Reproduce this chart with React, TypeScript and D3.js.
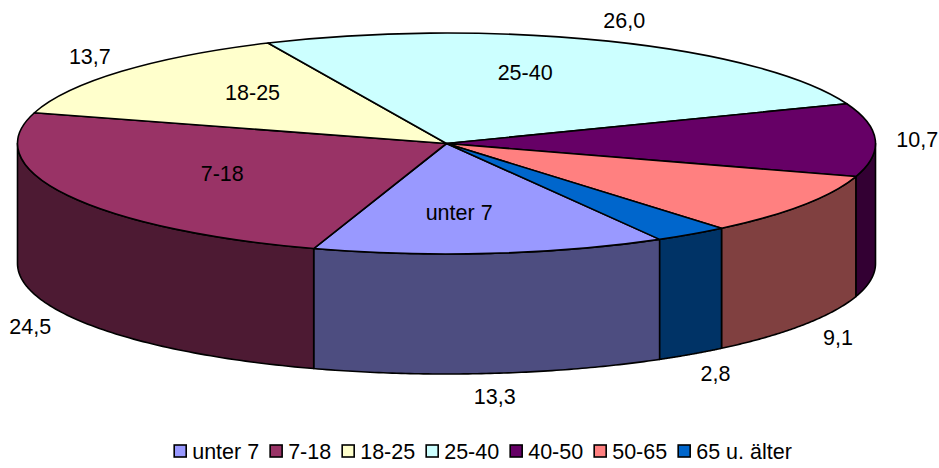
import React, { useEffect, useRef } from "react";
import * as d3 from "d3";

const categories = ["unter 7", "7-18", "18-25", "25-40", "40-50", "50-65", "65 u. älter"];
const values = [13.3, 24.5, 13.7, 26.0, 10.7, 9.1, 2.8];
const topColors = ["#9999FF", "#993366", "#FFFFCC", "#CCFFFF", "#660066", "#FF8080", "#0066CC"];

const W = 939;
const H = 468;
const FONT = "'Liberation Sans', Arial, sans-serif";
const FS = 21.5;

function halfColor(c: string) {
  const r = d3.rgb(c);
  return d3.rgb(r.r * 0.5, r.g * 0.5, r.b * 0.5).formatHex();
}

export default function App() {
  const ref = useRef<SVGSVGElement | null>(null);

  useEffect(() => {
    document.body.style.margin = "0";
    const svg = d3.select(ref.current);
    svg.selectAll("*").remove();

    const cx = 446.5, cy = 143.5, rx = 429, ry = 110.5, depth = 120;
    const start = (150.2 * Math.PI) / 180;
    const pie = d3
      .pie<number>()
      .sort(null)
      .value((d) => d)
      .startAngle(start)
      .endAngle(start + 2 * Math.PI);
    const arcs = pie(values);
    const px = (a: number) => cx + rx * Math.sin(a);
    const py = (a: number) => cy - ry * Math.cos(a);

    const g = svg.append("g");

    // side walls
    arcs.forEach((d, i) => {
      for (let k = -1; k <= 2; k++) {
        const lo = Math.PI / 2 + 2 * Math.PI * k;
        const hi = (3 * Math.PI) / 2 + 2 * Math.PI * k;
        const a = Math.max(d.startAngle, lo);
        const b = Math.min(d.endAngle, hi);
        if (b > a) {
          const n = 80;
          const pts: [number, number][] = [];
          for (let j = 0; j <= n; j++) {
            const t = a + ((b - a) * j) / n;
            pts.push([px(t), py(t)]);
          }
          for (let j = n; j >= 0; j--) {
            const t = a + ((b - a) * j) / n;
            pts.push([px(t), py(t) + depth]);
          }
          g.append("path")
            .attr("d", "M" + pts.map((p) => p.join(",")).join("L") + "Z")
            .attr("fill", halfColor(topColors[i]))
            .attr("stroke", "#000")
            .attr("stroke-width", 1.6)
            .attr("stroke-linejoin", "round");
        }
      }
    });

    // top face
    arcs.forEach((d, i) => {
      const a = d.startAngle, b = d.endAngle;
      const large = b - a > Math.PI ? 1 : 0;
      g.append("path")
        .attr(
          "d",
          `M${cx},${cy}L${px(a)},${py(a)}A${rx},${ry} 0 ${large} 1 ${px(b)},${py(b)}Z`
        )
        .attr("fill", topColors[i])
        .attr("stroke", "#000")
        .attr("stroke-width", 1.6)
        .attr("stroke-linejoin", "round");
    });

    const fmt = (v: number) => d3.format(".1f")(v).replace(".", ",");

    // value labels (outside)
    arcs.forEach((d) => {
      const m = (d.startAngle + d.endAngle) / 2;
      const front = -Math.cos(m) > 0;
      const x = cx + (rx + 42) * Math.sin(m);
      const y = cy - (ry + 23) * Math.cos(m) + (front ? depth : 0);
      g.append("text")
        .attr("x", x)
        .attr("y", y + FS * 0.36)
        .attr("text-anchor", "middle")
        .attr("font-family", FONT)
        .attr("font-size", FS)
        .attr("fill", "#000")
        .text(fmt(d.data));
    });

    // category labels (inside)
    arcs.forEach((d, i) => {
      const m = (d.startAngle + d.endAngle) / 2;
      if (i === 4 || i === 5 || i === 6) return;
      const x = cx - 12 + rx * 0.56 * Math.sin(m);
      const y = cy - 4 - ry * 0.66 * Math.cos(m);
      g.append("text")
        .attr("x", x)
        .attr("y", y + FS * 0.36)
        .attr("text-anchor", "middle")
        .attr("font-family", FONT)
        .attr("font-size", FS)
        .attr("fill", "#000")
        .text(categories[i]);
    });

    // legend
    const lg = svg.append("g");
    const sq = 12;
    const gap = 6;
    const spacing = 11;
    const ly = 451;
    const items: { w: number; node: any; rect: any }[] = [];
    categories.forEach((c, i) => {
      const rect = lg
        .append("rect")
        .attr("width", sq)
        .attr("height", sq)
        .attr("y", ly - sq / 2)
        .attr("fill", topColors[i])
        .attr("stroke", "#000")
        .attr("stroke-width", 1.6);
      const t = lg
        .append("text")
        .attr("y", ly + FS * 0.36)
        .attr("font-family", FONT)
        .attr("font-size", FS)
        .attr("fill", "#000")
        .text(c);
      const w = (t.node() as SVGTextElement).getComputedTextLength();
      items.push({ w, node: t, rect });
    });
    const total =
      items.reduce((s, it) => s + sq + gap + it.w, 0) + spacing * (items.length - 1);
    let x = 483 - total / 2;
    items.forEach((it) => {
      it.rect.attr("x", x);
      it.node.attr("x", x + sq + gap);
      x += sq + gap + it.w + spacing;
    });
  }, []);

  return <svg ref={ref} width={W} height={H} style={{ display: "block", background: "#fff" }} />;
}
